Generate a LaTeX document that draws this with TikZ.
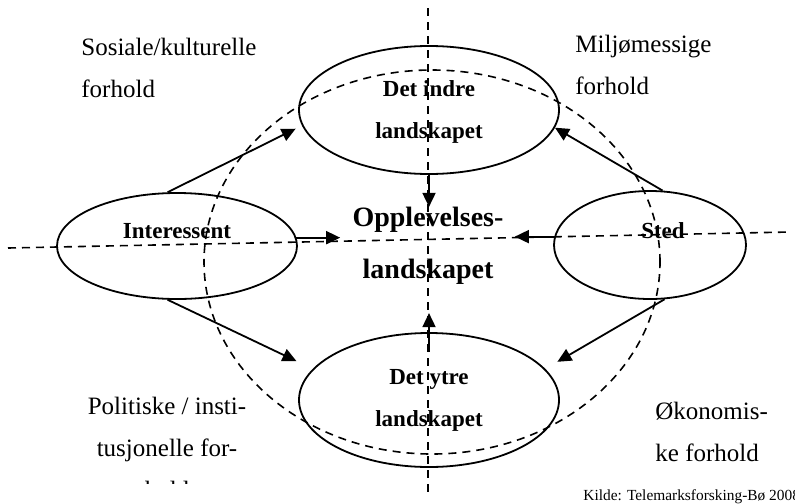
\documentclass[tikz,border=0pt]{standalone}
\usepackage{fontspec}
\setmainfont{Liberation Serif}
\usepackage{tikz}
\usetikzlibrary{arrows.meta,shapes,positioning,calc}

\begin{document}
\begin{tikzpicture}[x=0.5pt,y=-0.5pt,
  oval/.style={draw,ellipse,line width=0.9pt,inner sep=0pt},
  axis/.style={line width=0.8pt,dash pattern=on 4pt off 3pt},
  link/.style={line width=0.9pt,-{Triangle[length=7pt,width=6.5pt]}},
  factor/.style={font=\fontsize{12.5}{21}\selectfont,inner sep=0pt,align=left},
  landtext/.style={font=\fontsize{11.5}{21}\selectfont\bfseries,inner sep=0pt,align=center}]
  \clip (0,0) rectangle (795,503);

  \node[oval,minimum width=130pt,minimum height=64pt] (indre) at (429,110) {};
  \node[oval,minimum width=130pt,minimum height=67pt] (ytre) at (429,400) {};
  \node[oval,minimum width=120pt,minimum height=53pt] (interessent) at (177,246) {};
  \node[oval,minimum width=96pt,minimum height=54pt] (sted) at (650,245) {};

  \draw[axis] (432,262) ellipse [x radius=114pt,y radius=96pt];
  \draw[axis] (8,248) -- (790,232);
  \draw[axis] (428,8) -- (428,495);

  \node[landtext] (indretxt) at (429,112) {Det indre\\landskapet};
  \node[landtext] (ytretxt) at (429,400) {Det ytre\\landskapet};
  \node[landtext,anchor=base] (interessenttxt) at (177,238) {Interessent};
  \node[landtext,anchor=base] (stedtxt) at (663,238) {Sted};
  \node[font=\fontsize{14}{26}\selectfont\bfseries,align=center,inner sep=0pt] (opplevelse) at (428,246) {Opplevelses-\\landskapet};

  \node[factor,anchor=north west] (sosiale) at (81,38) {Sosiale/kulturelle\\forhold};
  \node[factor,anchor=north west] (miljo) at (575,35) {Miljømessige\\forhold};
  \node[factor,anchor=north west] (okonomi) at (655,402) {Økonomis-\\ke forhold};
  \begin{scope}
    \clip (0,0) rectangle (795,483);
    \node[factor,align=center,anchor=north] (politisk) at (167,397) {Politiske / insti-\\tusjonelle for-\\hold};
  \end{scope}
  \node[font=\fontsize{7.7}{10}\selectfont,inner sep=0pt,anchor=base west] (kilde) at (583,500) {Kilde: Telemarksforsking-Bø 2008};

  \draw[link,shorten >=3.5pt] (interessent.100) -- (indre.187);
  \draw[link] (sted.77) -- (indre.-8);
  \draw[link,shorten >=9pt] (interessent.-100) -- (ytre.165);
  \draw[link,shorten >=7pt] (sted.-75) -- (ytre.15);
  \draw[link,shorten >=6pt] (interessent.4) -- (interessent.4 -| opplevelse.west);
  \draw[link,shorten >=5.5pt] (sted.175) -- (sted.175 -| opplevelse.east);
  \draw[link] (indre.south) -- (indre.south |- opplevelse.north);
  \draw[link,shorten <=-10pt,shorten >=14pt] (ytre.north) -- (ytre.north |- opplevelse.south);
\end{tikzpicture}
\end{document}
